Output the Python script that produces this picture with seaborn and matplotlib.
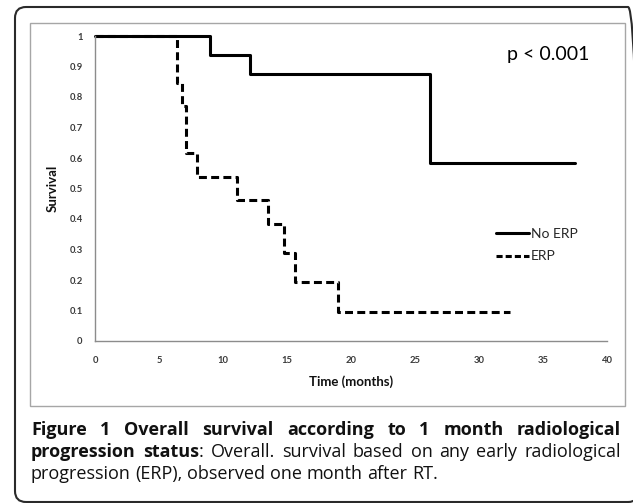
import numpy as np
import pandas as pd
import matplotlib
matplotlib.use("Agg")
import matplotlib.pyplot as plt
from matplotlib.patches import Rectangle, FancyBboxPatch
from matplotlib.transforms import IdentityTransform
from matplotlib.lines import Line2D
import seaborn as sns

# ---- data ----
noerp_time = [0, 9.0, 12.1, 26.2, 37.5]
noerp_surv = [1.0, 0.9375, 0.875, 0.583, 0.583]
erp_time = [0, 6.4, 6.8, 7.1, 8.0, 11.1, 13.5, 14.8, 15.6, 19.0, 32.4]
erp_surv = [1.0, 0.846, 0.769, 0.615, 0.538, 0.462, 0.385, 0.288, 0.192, 0.096, 0.096]
group_labels = ["No ERP", "ERP"]
x_ticks = [0, 5, 10, 15, 20, 25, 30, 35, 40]
y_ticks = [0, 0.1, 0.2, 0.3, 0.4, 0.5, 0.6, 0.7, 0.8, 0.9, 1]
y_tick_labels = ["0", "0.1", "0.2", "0.3", "0.4", "0.5", "0.6", "0.7", "0.8", "0.9", "1"]
p_text = "p < 0.001"
caption_lines = [
    [[("Figure", "bold")], [("1", "bold")], [("Overall", "bold")], [("survival", "bold")],
     [("according", "bold")], [("to", "bold")], [("1", "bold")], [("month", "bold")],
     [("radiological", "bold")]],
    [[("progression", "bold")], [("status", "bold"), (":", "normal")], [("Overall.", "normal")],
     [("survival", "normal")], [("based", "normal")], [("on", "normal")], [("any", "normal")],
     [("early", "normal")], [("radiological", "normal")]],
    [[("progression", "normal")], [("(ERP),", "normal")], [("observed", "normal")],
     [("one", "normal")], [("month", "normal")], [("after", "normal")], [("RT.", "normal")]],
]

sns.set_theme(style="white")
plt.rcParams["font.family"] = ["Lato", "DejaVu Sans"]

W, H = 633, 503
fig = plt.figure(figsize=(W / 100, H / 100), dpi=100)
fig.patch.set_facecolor("white")

# outer rounded frame (pixel coords, origin bottom-left)
frame = FancyBboxPatch((15, 1), 624, 495, boxstyle="round,pad=0,rounding_size=11",
                       transform=IdentityTransform(), fill=False, edgecolor="#2a2a2a",
                       linewidth=1.5)
fig.add_artist(frame)
# inner gray chart-area box
inner = Rectangle((30, H - 406), 595, 383, transform=IdentityTransform(), fill=False,
                  edgecolor="#a6a6a6", linewidth=1.0)
fig.add_artist(inner)

ax = fig.add_axes([95 / W, (H - 341) / H, (607 - 95) / W, (341 - 36) / H])
ax.set_facecolor("none")

df_no = pd.DataFrame({"time": noerp_time, "survival": noerp_surv})
df_erp = pd.DataFrame({"time": erp_time, "survival": erp_surv})

sns.lineplot(data=df_no, x="time", y="survival", ax=ax, drawstyle="steps-post",
             color="black", linewidth=2.2, label=group_labels[0], clip_on=False)
sns.lineplot(data=df_erp, x="time", y="survival", ax=ax, drawstyle="steps-post",
             color="black", linewidth=2.2, label=group_labels[1], clip_on=False,
             dashes=False)
ax.lines[1].set_linestyle((0, (2.6, 1.4)))

ax.set_xlim(0, 40)
ax.set_ylim(0, 1)
ax.set_xticks(x_ticks)
ax.set_xticklabels([str(t) for t in x_ticks])
ax.set_yticks(y_ticks)
ax.set_yticklabels(y_tick_labels)
ax.tick_params(axis="both", length=0, labelsize=6.8, labelcolor="#3a3a3a")
ax.tick_params(axis="y", pad=9)
ax.tick_params(axis="x", pad=11)
for lab in ax.get_xticklabels() + ax.get_yticklabels():
    lab.set_fontweight("bold")
for s in ["top", "right"]:
    ax.spines[s].set_visible(False)
for s in ["left", "bottom"]:
    ax.spines[s].set_color("#8c8c8c")
    ax.spines[s].set_linewidth(1.0)

ax.set_xlabel("Time (months)", fontsize=9.5, fontweight="bold", color="#111111")
ax.set_ylabel("Survival", fontsize=9.5, fontweight="bold", color="#111111")
ax.xaxis.set_label_coords(0.5, -0.112)
ax.yaxis.set_label_coords(-0.071, 0.5)

ax.text(0.886, 0.94, p_text, transform=ax.transAxes, fontsize=14, ha="center",
        va="center", color="black")

handles = [Line2D([], [], color="black", linewidth=2.2),
           Line2D([], [], color="black", linewidth=2.2, linestyle=(0, (2.0, 1.0)))]
ax.legend(handles, group_labels, loc="upper left",
          bbox_to_anchor=(496 / W, 1 - 228 / H), bbox_transform=fig.transFigure,
          frameon=False, fontsize=10, handlelength=2.4, handletextpad=0.1,
          labelspacing=0.75, borderpad=0, borderaxespad=0)

# ---- caption, justified ----
renderer = fig.canvas.get_renderer()
cap_left, cap_right = 31, 621
baselines = [435, 457, 479]
cap_size = 13
cap_family = ["Open Sans", "DejaVu Sans"]
cap_color = "#111111"


def piece_width(txt, weight):
    t = fig.text(0, 0, txt, fontsize=cap_size, fontweight=weight, family=cap_family)
    w = t.get_window_extent(renderer).width
    t.remove()
    return w


space_w = piece_width("a a", "normal") - piece_width("aa", "normal")
for li, line in enumerate(caption_lines):
    token_widths = []
    for tok in line:
        token_widths.append([piece_width(txt, wt) for txt, wt in tok])
    total = sum(sum(w) for w in token_widths)
    justify = li < len(caption_lines) - 1
    gap = (cap_right - cap_left - total) / (len(line) - 1) if justify else space_w
    x = cap_left
    y = (H - baselines[li]) / H
    for tok, ws in zip(line, token_widths):
        for (txt, wt), w in zip(tok, ws):
            fig.text(x / W, y, txt, fontsize=cap_size, fontweight=wt, family=cap_family,
                     color=cap_color, ha="left", va="baseline")
            x += w
        x += gap

fig.savefig("out.png", dpi=100)
